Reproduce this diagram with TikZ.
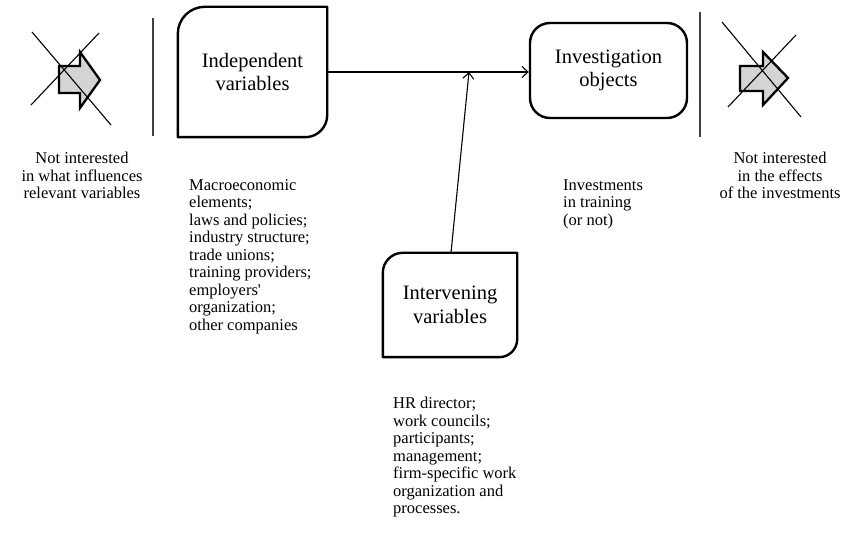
\documentclass[tikz,border=0pt]{standalone}
\usepackage{fontspec}
\setmainfont{Liberation Serif}
\usetikzlibrary{arrows.meta}
\font\rawserif="Liberation Serif" at 16.5pt
\begin{document}
\begin{tikzpicture}[x=1pt,y=1pt,
  boxline/.style={line width=2.4pt, line join=round},
  boxtext/.style={align=center, font=\fontsize{20.5}{23.5}\selectfont, inner sep=0pt},
  conn/.style={line width=1.1pt, -{Straight Barb[length=6pt,width=11pt,line width=1.1pt]}},
  sepline/.style={line width=1.2pt, draw=black!75},
  blockarrow/.style={line width=2.3pt, fill=black!17, line join=miter},
  crossline/.style={line width=1.1pt},
  note/.style={align=left, font=\fontsize{16.5}{17.5}\selectfont, inner sep=0pt, anchor=north west},
  cnote/.style={align=center, font=\fontsize{16.5}{17.5}\selectfont, inner sep=0pt, anchor=north}]
\useasboundingbox (0,0) rectangle (849,533);

% separators
\draw[sepline] (153,515) -- (153,397);
\draw[sepline] (700,521) -- (700,396);

% left crossed arrow
\draw[blockarrow] (59,467) -- (80,467) -- (80,481) -- (100,453) -- (80,425) -- (80,440) -- (59,440) -- cycle;
\draw[crossline] (32,501) -- (111,408);
\draw[crossline] (99,500) -- (31,428);

% right crossed arrow
\draw[blockarrow] (740,467) -- (763,467) -- (763,481) -- (788,455) -- (763,428) -- (763,442) -- (740,442) -- cycle;
\draw[crossline] (722,511) -- (801,416);
\draw[crossline] (796,498) -- (728,426);

% boxes
\node[boxtext, minimum width=149pt, minimum height=130pt] (indep) at (252.5,461) {Independent\\variables};
\draw[boxline] (indep.south west) -- ([yshift=-27pt]indep.north west)
  arc[start angle=180,end angle=90,radius=27pt] -- (indep.north east)
  -- ([yshift=22pt]indep.south east) arc[start angle=0,end angle=-90,radius=22pt] -- cycle;

\node[boxtext, draw, boxline, rounded corners=20pt, minimum width=157pt, minimum height=95pt] (invest) at (608.5,462.5) {Investigation\\objects};

\node[boxtext, minimum width=134pt, minimum height=104pt] (interv) at (450,228) {Intervening\\variables};
\draw[boxline] (interv.south west) -- ([yshift=-20pt]interv.north west)
  arc[start angle=180,end angle=90,radius=20pt] -- (interv.north east)
  -- ([yshift=18pt]interv.south east) arc[start angle=0,end angle=-90,radius=18pt] -- cycle;

% connectors
\coordinate (meet) at (469,461);
\draw[conn] (indep.east) -- (indep.east -| invest.west);
\draw[conn] ([xshift=1pt]interv.north) -- (meet);

% texts
\node[cnote] (tleft) at (82,381) {Not interested\\in what influences\\relevant variables};
\node[note] (tmacro) at (189,354) {Macroeconomic\\elements;\\laws and policies;\\industry structure;\\trade unions;\\training providers;\\employers{\rawserif '}\\organization;\\other companies};
\node[note] (tinv) at (563,354) {Investments\\in training\\(or not)};
\node[cnote] (tright) at (780,381) {Not interested\\in the effects\\of the investments};
\node[note] (thr) at (393,136) {HR director;\\work councils;\\participants;\\management;\\firm-specific work\\organization and\\processes.};
\end{tikzpicture}
\end{document}
